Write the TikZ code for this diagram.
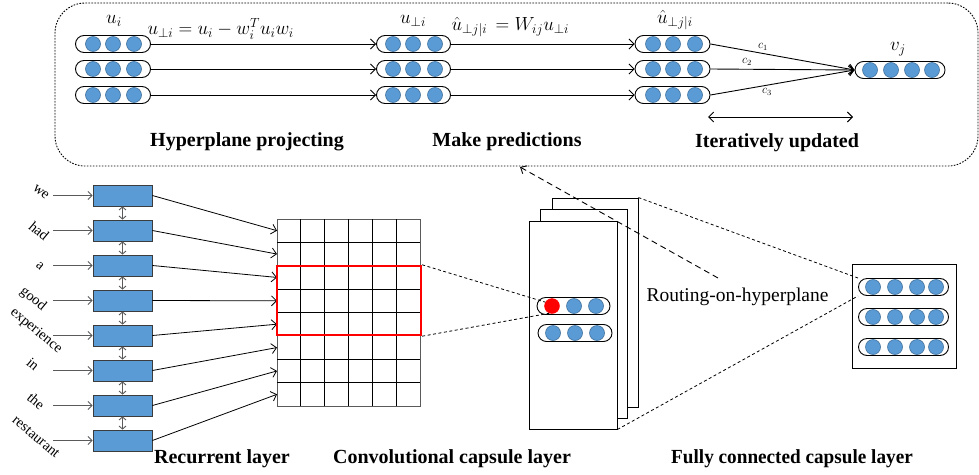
\RequirePackage{fix-cm}
\documentclass[tikz,border=0pt]{standalone}
\usepackage{fontspec}
\setmainfont{Liberation Serif}
\usetikzlibrary{arrows.meta,calc}
\definecolor{capblue}{RGB}{91,155,213}
\definecolor{capedge}{RGB}{65,113,156}
\definecolor{blockedge}{RGB}{60,60,60}
\definecolor{linegray}{RGB}{90,90,90}
\begin{document}
\begin{tikzpicture}[x=1pt,y=-1pt,
  capsule/.style={draw=black, line width=0.9pt, rounded corners=8.5pt, minimum height=17pt, inner sep=0pt},
  ball/.style={circle, fill=capblue, draw=capedge, line width=0.6pt, minimum size=15pt, inner sep=0pt},
  redball/.style={circle, fill=red, draw=red, minimum size=15pt, inner sep=0pt},
  arr/.style={-{Straight Barb[length=5pt,width=10pt]}, line width=0.9pt},
  darr/.style={{Straight Barb[length=5pt,width=10pt]}-{Straight Barb[length=5pt,width=10pt]}, line width=0.9pt},
  grayarr/.style={-{Straight Barb[length=4pt,width=8pt]}, line width=0.9pt, draw=linegray},
  graydarr/.style={{Straight Barb[length=3pt,width=7pt]}-{Straight Barb[length=3pt,width=7pt]}, line width=0.9pt, draw=linegray},
  block/.style={draw=blockedge, fill=capblue, line width=0.8pt, minimum width=59pt, minimum height=21pt, inner sep=0pt},
  panel/.style={draw=black, fill=white, line width=0.9pt, inner sep=0pt},
  dashln/.style={dashed, dash pattern=on 3pt off 2.5pt, line width=0.8pt},
  bigdash/.style={dash pattern=on 6pt off 4pt, line width=0.9pt},
  boldlab/.style={font=\fontsize{20}{24}\selectfont\bfseries},
  mathlab/.style={font=\fontsize{19}{22}\selectfont},
  clab/.style={font=\fontsize{12}{13}\selectfont},
  wordlab/.style={font=\fontsize{14.5}{16}\selectfont, rotate=-40, inner sep=0pt},
]
\useasboundingbox (0,0) rectangle (979,474);

% ---------- top dotted box ----------
\node[draw, dash pattern=on 1.6pt off 1.4pt, line width=0.9pt, rounded corners=30pt,
      minimum width=923pt, minimum height=163pt, inner sep=0pt] (topbox) at (516.5,84.5) {};

% capsules top
\foreach \r/\y in {1/44,2/69,3/95}{
  \node[capsule, minimum width=75pt] (a\r) at (113,\y) {};
  \foreach \k/\dx in {1/-20,2/0,3/21} \node[ball] (a\r-\k) at ({113+\dx},\y) {};
  \node[capsule, minimum width=74pt] (b\r) at (413.5,\y) {};
  \foreach \k/\dx in {1/-20.5,2/-0.5,3/21.5} \node[ball] (b\r-\k) at ({413.5+\dx},\y) {};
  \node[capsule, minimum width=75pt] (c\r) at (672.5,\y) {};
  \foreach \k/\dx in {1/-19.5,2/0.5,3/22.5} \node[ball] (c\r-\k) at ({672.5+\dx},\y) {};
}
\node[capsule, minimum width=90pt] (v) at (900,70) {};
\foreach \k/\dx in {1/-30,2/-9,3/12,4/32} \node[ball] (v-\k) at ({900+\dx},70) {};

\foreach \r in {1,2,3}{
  \draw[arr] (a\r.east) -- (b\r.west);
  \draw[arr] (b\r.east) -- (c\r.west);
  \draw[arr] (c\r.east) -- (v.west);
}
\node[clab] (lc1) at (763,47) {$c_1$};
\node[clab] (lc2) at (747,62) {$c_2$};
\node[clab] (lc3) at (767,92) {$c_3$};

\coordinate (it1) at (708,117);
\coordinate (it2) at (853,117);
\draw[darr] (it1) -- (it2);

% math labels
\node[mathlab] (lui) at (114,21) {$u_i$};
\node[mathlab, anchor=west] (lproj) at (144,29) {$u_{\perp i} = u_i - w_i^T u_i w_i$};
\node[mathlab] (lupi) at (413,21) {$u_{\perp i}$};
\node[mathlab, anchor=west] (lpred) at (448,27) {$\hat u_{\perp j|i} \,= W_{ij} u_{\perp i}$};
\node[mathlab] (luhat) at (675,20) {$\hat u_{\perp j|i}$};
\node[mathlab] (lvj) at (898,49) {$v_j$};

\node[boldlab] (t1) at (247,142) {Hyperplane projecting};
\node[boldlab] (t2) at (507,142) {Make predictions};
\node[boldlab] (t3) at (777,143) {Iteratively updated};

% ---------- recurrent layer ----------
\foreach \k in {1,...,8}{
  \node[block] (r\k) at (122.5,{195.5+35*(\k-1)}) {};
  \coordinate (in\k) at (53,{195.5+35*(\k-1)});
  \draw[grayarr] (in\k) -- (r\k.west);
}
\foreach \k in {1,...,7}{
  \pgfmathtruncatemacro{\n}{\k+1}
  \draw[graydarr] (r\k.south) -- (r\n.north);
}
\node[wordlab] (w1) at (41,192) {we};
\node[wordlab] (w2) at (39,231) {had};
\node[wordlab] (w3) at (40,266) {a};
\node[wordlab] (w4) at (33,299) {good};
\node[wordlab] (w5) at (36,331) {experience};
\node[wordlab] (w6) at (33,364) {in};
\node[wordlab] (w7) at (36,401) {the};
\node[wordlab] (w8) at (36,437) {restaurant};

% ---------- grid ----------
\node[draw=linegray, line width=1pt, minimum width=143pt, minimum height=187pt, inner sep=0pt] (grid) at (348.5,312.5) {};
\foreach \i in {1,...,5} \draw[line width=0.9pt] ({277+\i*23.833},219) -- ({277+\i*23.833},406);
\foreach \i in {1,...,7} \draw[line width=0.9pt] (277,{219+\i*23.375}) -- (420,{219+\i*23.375});
\foreach \k in {1,...,8}{
  \coordinate (g\k) at (277,{219+23.375*(\k-0.5)});
  \draw[arr, line width=0.8pt] (r\k.east) -- (g\k);
}
\node[draw=red, line width=2.4pt, minimum width=144pt, minimum height=69pt, inner sep=0pt] (redbox) at (349,300.5) {};

% ---------- convolutional capsule panels ----------
\node[panel, minimum width=86pt, minimum height=209pt] (back) at (595,302.5) {};
\node[panel, minimum width=87pt, minimum height=209pt] (mid) at (583.5,313.5) {};
\node[panel, minimum width=88pt, minimum height=208pt] (front) at (573,325) {};

\node[capsule, minimum width=73pt] (p1) at (573.5,306) {};
\node[redball] (p1-1) at (552,306) {};
\node[ball] (p1-2) at (574,306) {};
\node[ball] (p1-3) at (596,306) {};
\node[capsule, minimum width=74pt] (p2) at (575,333) {};
\foreach \k/\x in {1/553,2/575,3/597} \node[ball] (p2-\k) at (\x,333) {};

\draw[dashln] (redbox.north east) -- (p1-1.150);
\draw[dashln] (redbox.south east) -- (p1-1.250);

% ---------- fully connected capsule layer ----------
\node[draw=black, line width=1pt, minimum width=104pt, minimum height=104pt, inner sep=0pt] (fcbox) at (904,316) {};
\foreach \r/\y in {1/287,2/317,3/347}{
  \node[capsule, minimum width=90pt] (f\r) at (903.5,\y) {};
  \foreach \k/\dx in {1/-30.5,2/-8.5,3/13.5,4/32.5} \node[ball] (f\r-\k) at ({903.5+\dx},\y) {};
}
\draw[dashln] (back.north east) -- (f1.north west);
\draw[dashln] (front.south east) -- (f1.south west);

% ---------- routing ----------
\coordinate (rs) at (718,278);
\coordinate (rt) at (520,167);
\draw[bigdash, -{Straight Barb[length=5pt,width=9pt]}] (rs) -- (rt);
\node[anchor=west, font=\fontsize{19.5}{22}\selectfont] (rlabel) at (643,297) {Routing-on-hyperplane};

% ---------- bottom labels ----------
\node[boldlab] (bl1) at (222,459) {Recurrent layer};
\node[boldlab] (bl2) at (452,459) {Convolutional capsule layer};
\node[boldlab, xscale=0.96] (bl3) at (792,459) {Fully connected capsule layer};
\end{tikzpicture}
\end{document}
